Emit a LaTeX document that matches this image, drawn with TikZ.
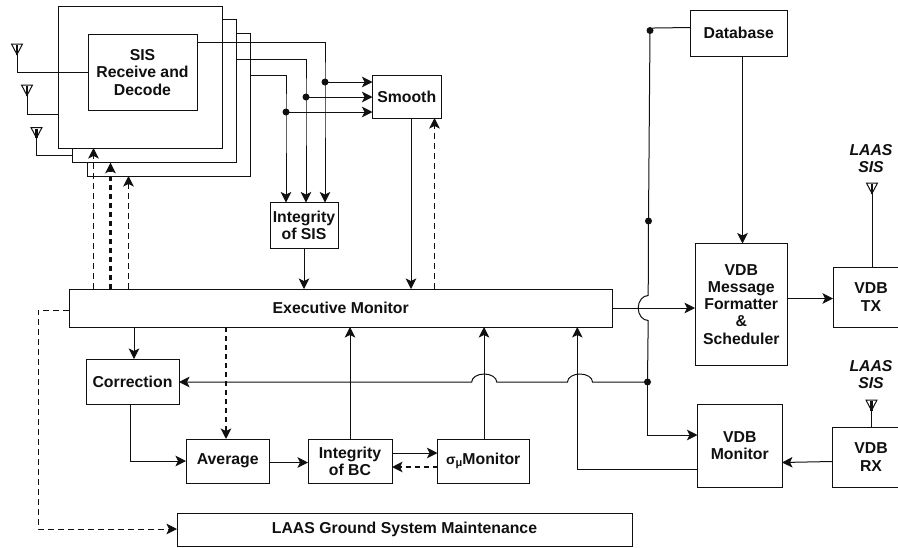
\documentclass[tikz,border=0pt]{standalone}
\usepackage{fontspec}
\setmainfont{Liberation Sans}
\usetikzlibrary{arrows.meta}
\definecolor{ink}{HTML}{101010}
\tikzset{
  blk/.style={draw=ink,fill=white,line width=1pt,inner sep=0pt,outer sep=0pt,align=center,text=ink,
    font=\fontsize{15.8}{17.3}\selectfont\bfseries},
  wire/.style={draw=ink,line width=1pt},
  arr/.style={wire,-{Stealth[length=10.5pt,width=10.5pt,inset=2.5pt]}},
  dsh/.style={arr,dash pattern=on 6pt off 4pt},
  dshb/.style={dsh,line width=2.2pt,dash pattern=on 5pt off 4pt},
  dot/.style={circle,fill=ink,inner sep=0pt,outer sep=0pt,minimum size=7pt},
  lbl/.style={align=center,text=ink,inner sep=0pt,font=\fontsize{15.8}{17.3}\selectfont\bfseries\itshape},
}
\newcommand\bx[6]{%
  \pgfmathsetmacro\bcx{(#2+#4)/2}\pgfmathsetmacro\bcy{(#3+#5)/2}%
  \pgfmathsetmacro\bww{#4-#2}\pgfmathsetmacro\bhh{#5-#3}%
  \node[blk,minimum width=\bww pt,minimum height=\bhh pt] (#1) at (\bcx,-\bcy) {#6};}
\newcommand\ant[3]{% name, x, top y
  \coordinate (#1) at (#2,-#3-10.5);
  \draw[wire,fill=white,line join=miter] (#2-5.5,-#3) -- (#2+5.5,-#3) -- (#1) -- cycle;
  \draw[wire,line width=2.2pt] (#2,-#3-1) -- (#1);}
\begin{document}
\begin{tikzpicture}[x=1pt,y=1pt]
\useasboundingbox (0,0) rectangle (898,-547);
\fill[white] (0,0) rectangle (898,-547);

% stacked receivers
\bx{rxc}{87}{33}{250.7}{176}{}
\bx{rxb}{72.5}{19.5}{236.7}{162.7}{}
\bx{rxa}{58}{6}{222}{148}{}
\bx{sis}{88}{34.7}{197}{110}{SIS\\Receive and\\Decode}

\bx{smooth}{372.5}{75}{441}{118}{Smooth}
\bx{intsis}{270}{202.5}{338}{248}{Integrity\\of SIS}
\bx{exec}{69}{289}{612.5}{327}{Executive Monitor}
\bx{corr}{86}{359}{179}{404.5}{Correction}
\bx{avg}{186}{439}{269.5}{483}{Average}
\bx{intbc}{308}{439}{392}{483}{Integrity\\of BC}
\bx{sigmon}{437.5}{439}{529}{483}{\fontsize{14}{14}\selectfont σ\raisebox{-1.5pt}{\fontsize{11}{11}\selectfont μ}\fontsize{15.8}{17.3}\selectfont Monitor}
\bx{maint}{177}{513}{632}{546}{\raisebox{-2pt}{LAAS Ground System Maintenance}}
\bx{db}{690.5}{10.5}{787}{56}{Database}
\bx{msg}{695}{243.5}{787.5}{365}{VDB\\Message\\Formatter\\\&\\Scheduler}
\bx{tx}{833}{267}{909}{327}{VDB\\TX}
\bx{rx}{832}{427}{910}{487}{VDB\\RX}
\bx{mon}{697.5}{404}{782}{487}{VDB\\Monitor}

% antennas
\ant{a}{17}{44}
\ant{b}{27}{85}
\ant{c}{36.5}{127.5}
\ant{d}{872}{183}
\ant{e}{871.5}{400}
\draw[wire] (a) |- (sis.west |- 0,-72);
\draw[wire] (b) |- (rxa.west |- 0,-114);
\draw[wire] (c) |- (rxb.west |- 0,-155.5);
\draw[wire] (d) -- (d |- tx.north);
\draw[wire] (e) -- (e |- rx.north);
\node[lbl] (l1) at (871,-158.5) {LAAS\\SIS};
\node[lbl] (l2) at (871,-374.5) {LAAS\\SIS};

% receiver outputs
\node[dot] (j1) at (325,-82) {};
\node[dot] (j2) at (306,-97) {};
\node[dot] (j3) at (286,-112) {};
\draw[arr] (sis.east |- 0,-42) -| (j1.center) -- (j1 |- intsis.north);
\draw[arr] (rxb.east |- 0,-59) -| (j2.center) -- (j2 |- intsis.north);
\draw[arr] (rxc.east |- 0,-75) -| (j3.center) -- (j3 |- intsis.north);
\draw[arr] (j1.center) -- (j1 -| smooth.west);
\draw[arr] (j2.center) -- (j2 -| smooth.west);
\draw[arr] (j3.center) -- (j3 -| smooth.west);

\draw[arr] (intsis.south -| 304,0) -- (exec.north -| 304,0);
\draw[arr] (smooth.south -| 411,0) -- (exec.north -| 411,0);
\draw[dsh] (exec.north -| 434.5,0) -- (smooth.south -| 434.5,0);

% executive monitor to receivers
\draw[dsh] (exec.north -| 93.5,0) -- (rxa.south -| 93.5,0);
\draw[dshb] (exec.north -| 110.5,0) -- (rxb.south -| 110.5,0);
\draw[dsh] (exec.north -| 128.5,0) -- (rxc.south -| 128.5,0);

% lower chain
\draw[arr] (exec.south -| 134,0) -- (corr.north -| 134,0);
\draw[dshb] (exec.south -| 226,0) -- (avg.north -| 226,0);
\draw[arr] (corr.south -| 130.5,0) |- (avg.west |- 0,-461);
\draw[arr] (avg.east |- 0,-462.5) -- (intbc.west |- 0,-462.5);
\draw[arr] (intbc.north -| 350,0) -- (exec.south -| 350,0);
\draw[arr] (intbc.east |- 0,-453) -- (sigmon.west |- 0,-453);
\draw[dshb] (sigmon.west |- 0,-467) -- (intbc.east |- 0,-467);
\draw[arr] (sigmon.north -| 484,0) -- (exec.south -| 484,0);
\draw[arr] (mon.west |- 0,-469) -| (exec.south -| 577.3,0);
\draw[dsh] (exec.west |- 0,-310) -- (38,-310) |- (maint.west |- 0,-529);

% database bus
\node[dot] (j4) at (650,-30.5) {};
\node[dot] (j5) at (648.5,-221) {};
\node[dot] (j6) at (647.5,-382) {};
\draw[wire] (db.west |- 0,-27.5) -- (j4.north east) ;
\draw[wire] (j4.center) -- (j5.center) -- (648.2,-295.5)
  arc[start angle=90,end angle=270,x radius=10,y radius=12.5] -- (j6.center);
\draw[arr] (j6.center) -- (647.5,-435) -- (mon.west |- 0,-435);
\draw[arr] (j6.center) -- (592.5,-382)
  arc[start angle=0,end angle=180,x radius=12.5,y radius=8] -- (496.7,-382)
  arc[start angle=0,end angle=180,x radius=12.5,y radius=8] -- (corr.east |- 0,-382);
\draw[arr] (db.south -| 742.5,0) -- (msg.north -| 742.5,0);
\draw[arr] (exec.east |- 0,-308) -- (msg.west |- 0,-308);
\draw[arr] (msg.east |- 0,-298.5) -- (tx.west |- 0,-298.5);
\draw[arr] (rx.west |- 0,-461.5) -- (mon.east |- 0,-462.5);
\end{tikzpicture}
\end{document}
